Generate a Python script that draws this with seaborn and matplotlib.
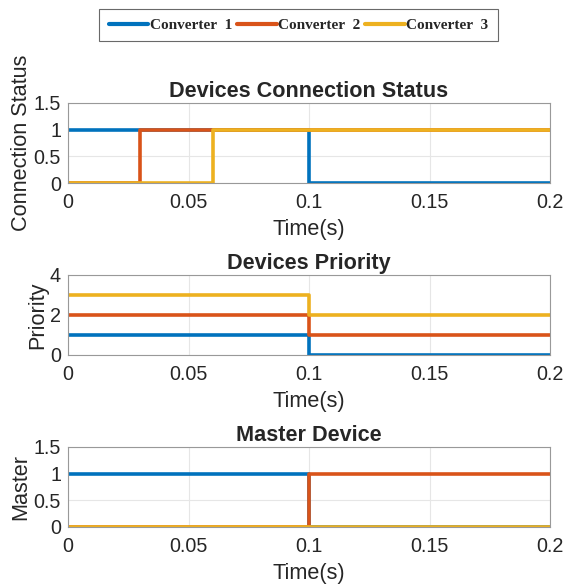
import numpy as np
import pandas as pd
import seaborn as sns
import matplotlib.pyplot as plt
from matplotlib.lines import Line2D

sns.set_style("white")
plt.rcParams['font.family'] = ['Liberation Sans', 'DejaVu Sans']

# Switching instants (s) and the state held from each instant onward
time = [0.0, 0.03, 0.06, 0.1, 0.2]
converters = ["Converter 1", "Converter 2", "Converter 3"]
colors = ["#0072BD", "#D95319", "#EDB120"]

status = {
    "Converter 1": [1, 1, 1, 0, 0],
    "Converter 2": [0, 1, 1, 1, 1],
    "Converter 3": [0, 0, 1, 1, 1],
}
priority = {
    "Converter 1": [1, 1, 1, 0, 0],
    "Converter 2": [2, 2, 2, 1, 1],
    "Converter 3": [3, 3, 3, 2, 2],
}
master = {
    "Converter 1": [1, 1, 1, 0, 0],
    "Converter 2": [0, 0, 0, 1, 1],
    "Converter 3": [0, 0, 0, 0, 0],
}

panels = [
    ("Devices Connection Status", "Connection Status", status, (0, 1.5), [0, 0.5, 1, 1.5], ["0", "0.5", "1", "1.5"]),
    ("Devices Priority", "Priority", priority, (0, 4), [0, 2, 4], ["0", "2", "4"]),
    ("Master Device", "Master", master, (0, 1.5), [0, 0.5, 1, 1.5], ["0", "0.5", "1", "1.5"]),
]
xticks = [0, 0.05, 0.1, 0.15, 0.2]
xticklabels = ["0", "0.05", "0.1", "0.15", "0.2"]

TICK_FS = 14.2
LABEL_FS = 15.6

fig = plt.figure(figsize=(5.64, 5.88), dpi=100)
W, H = 564, 588
boxes = [(68, 103, 550, 183), (68, 275, 550, 355), (68, 447, 550, 527)]

for (title, ylabel, data, ylim, yt, ytl), (x0, y0, x1, y1) in zip(panels, boxes):
    ax = fig.add_axes([x0 / W, 1 - y1 / H, (x1 - x0) / W, (y1 - y0) / H])
    df = pd.DataFrame([
        {"t": t, "v": v, "conv": c}
        for c in converters for t, v in zip(time, data[c])
    ])
    sns.lineplot(data=df, x="t", y="v", hue="conv", palette=colors,
                 drawstyle="steps-post", linewidth=2.6, ax=ax, legend=False,
                 estimator=None, sort=False)
    ax.set_xlim(0, 0.2)
    ax.set_ylim(*ylim)
    ax.set_xticks(xticks)
    ax.set_xticklabels(xticklabels)
    ax.set_yticks(yt)
    ax.set_yticklabels(ytl)
    ax.grid(True, color="#e6e6e6", linewidth=0.8)
    ax.tick_params(axis="both", direction="in", length=3, labelsize=TICK_FS,
                   color="#888888", labelcolor="#262626")
    ax.tick_params(axis="x", pad=7)
    ax.tick_params(axis="y", pad=5)
    for s in ax.spines.values():
        s.set_color("#999999")
        s.set_linewidth(0.8)
    ax.set_title(title, fontsize=LABEL_FS, fontweight="bold", pad=4)
    ax.set_xlabel("Time(s)", fontsize=LABEL_FS, color="#262626", labelpad=5)
    ax.set_ylabel(ylabel, fontsize=LABEL_FS, color="#262626", labelpad=1.5)

handles = [Line2D([0], [0], color=c, linewidth=3) for c in colors]
labels = [c.replace(" ", "  ") for c in converters]
leg = fig.legend(handles, labels, loc="center", bbox_to_anchor=(298.5 / W, 1 - 25 / H),
                 ncol=3, frameon=True, fancybox=False, handlelength=2.6,
                 handletextpad=0.1, columnspacing=0.3, borderpad=0.6,
                 prop={"family": "Liberation Serif", "weight": "bold", "size": 11})
leg.get_frame().set_edgecolor("#444444")
leg.get_frame().set_linewidth(0.8)

fig.savefig("out.png", dpi=100)
